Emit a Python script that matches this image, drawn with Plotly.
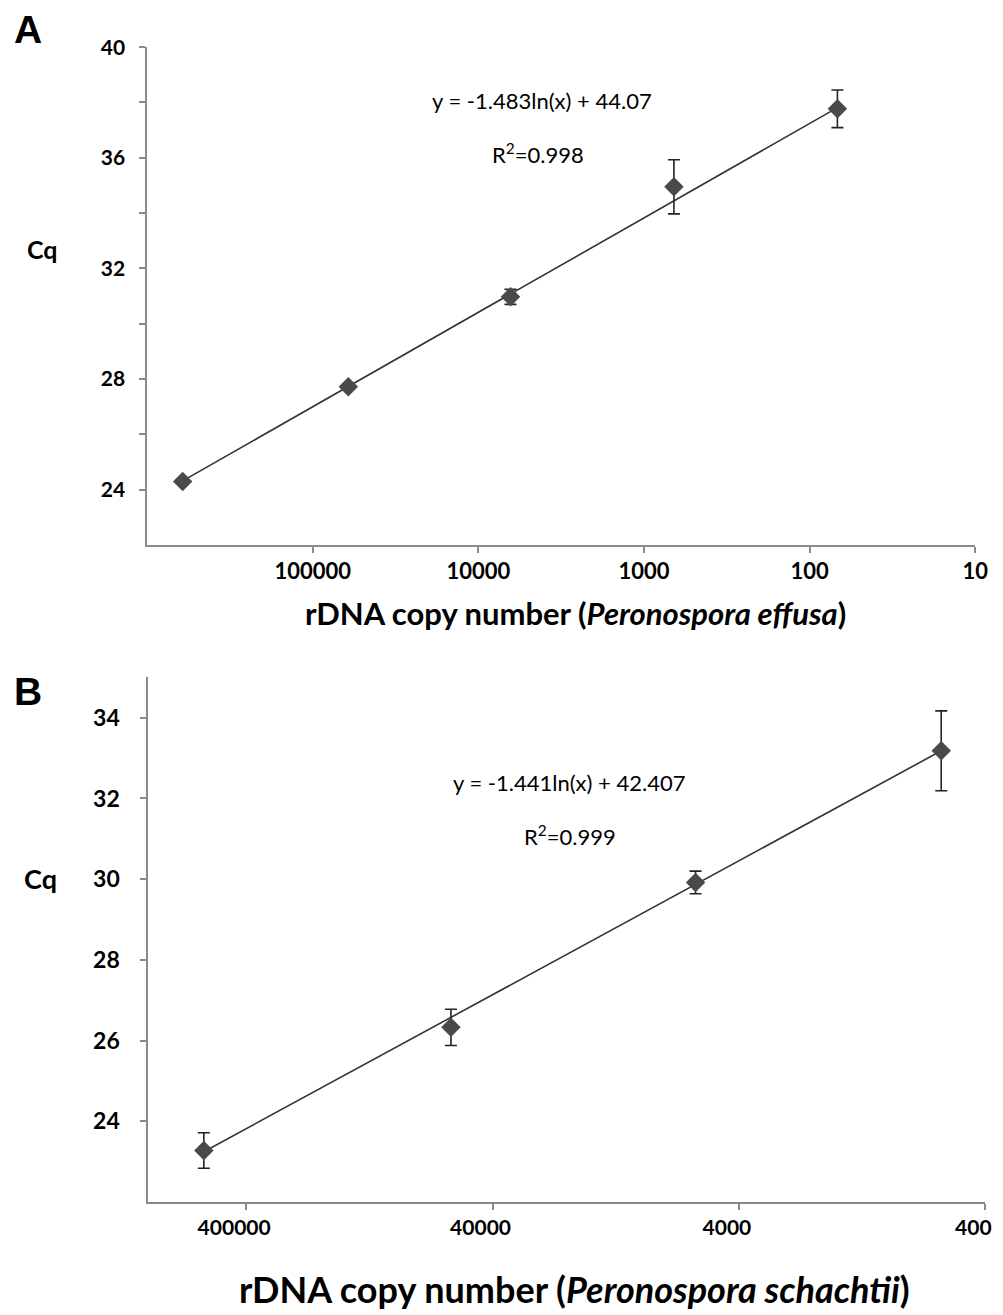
import numpy as np
import plotly.graph_objects as go

W, H = 1003, 1315

# ---------------- data ----------------
a_copies = [610000, 61000, 6400, 660, 68]
a_cq = [24.29, 27.72, 30.97, 34.95, 37.77]
a_err = [0.08, 0.1, 0.27, 0.98, 0.68]
a_slope, a_intercept = -1.483, 44.07
a_xticks = [100000, 10000, 1000, 100, 10]
a_yticks = [24, 28, 32, 36, 40]
a_yminor = [26, 30, 34, 38]

b_copies = [594000, 59000, 6000, 604]
b_cq = [23.28, 26.33, 29.92, 33.18]
b_err = [0.44, 0.45, 0.28, 0.99]
b_slope, b_intercept = -1.441, 42.407
b_xticks = [400000, 40000, 4000, 400]
b_yticks = [24, 26, 28, 30, 32, 34]

# the page is photographed with a small offset/scale; compensate so that
# reference pixel positions land where they should
SX, OX = 0.9856, 7.1
SY, OY = 0.9934, 18.0


def px(x):
    return ((x - OX) / SX) / W


def py(y):
    return 1 - ((y - OY) / SY) / H


FONT = "Lato, Open Sans, sans-serif"
MARK = "#4a4a4a"
AXC = "#8a8a8a"

fig = go.Figure()


def add_panel(copies, cq, err, slope, intercept, xa, ya):
    xs = np.logspace(np.log10(min(copies)), np.log10(max(copies)), 100)
    fig.add_trace(go.Scatter(x=xs, y=slope * np.log(xs) + intercept, mode="lines",
                             line=dict(color="#333333", width=1.6),
                             xaxis=xa, yaxis=ya, showlegend=False, hoverinfo="skip"))
    fig.add_trace(go.Scatter(x=copies, y=cq, mode="markers",
                             marker=dict(symbol="diamond", size=15, color=MARK),
                             error_y=dict(type="data", array=err, visible=True,
                                          color="#222222", thickness=1.6, width=6),
                             xaxis=xa, yaxis=ya, showlegend=False))


add_panel(a_copies, a_cq, a_err, a_slope, a_intercept, "x", "y")
add_panel(b_copies, b_cq, b_err, b_slope, b_intercept, "x2", "y2")


def tf(size):
    return dict(family=FONT, size=size, color="black", weight="bold")


common = dict(showgrid=False, zeroline=False, showline=True,
              linecolor=AXC, linewidth=1.5, ticks="outside", ticklen=6,
              tickcolor=AXC, tickwidth=1.5)

fig.update_layout(
    width=W, height=H, margin=dict(l=0, r=0, t=0, b=0),
    plot_bgcolor="white", paper_bgcolor="white",
    xaxis=dict(common, type="log", domain=[px(146), px(973)], range=[6, 1], anchor="y",
               tickvals=a_xticks, ticktext=[str(v) for v in a_xticks],
               tickfont=tf(22), ticklabelstandoff=0),
    yaxis=dict(common, domain=[py(543), py(43.3)], range=[22, 40], anchor="x",
               tickvals=a_yticks, ticktext=[str(v) for v in a_yticks],
               minor=dict(tickvals=a_yminor, ticks="outside", ticklen=6,
                          tickcolor=AXC, tickwidth=1.5, showgrid=False),
               tickfont=tf(21), ticklabelstandoff=10),
    xaxis2=dict(common, type="log", domain=[px(147), px(983)], range=[6, np.log10(400)],
                anchor="y2", tickvals=b_xticks, ticktext=[str(v) for v in b_xticks],
                tickfont=tf(21), ticklabelstandoff=0, ticklabelshift=12),
    yaxis2=dict(common, domain=[py(1203), py(676)], range=[22, 35], anchor="x2",
                tickvals=b_yticks, ticktext=[str(v) for v in b_yticks],
                tickfont=tf(23), ticklabelstandoff=16),
)

ann = []


def text(x, y, t, size, bold=False, family=FONT):
    ann.append(dict(x=px(x), y=py(y), xref="paper", yref="paper", text=t,
                    showarrow=False, xanchor="center", yanchor="middle",
                    font=dict(family=family, size=size, color="black",
                              weight="bold" if bold else "normal")))


text(27, 26, "A", 39, True, "Liberation Sans, Arial, sans-serif")
text(27, 690, "B", 39, True, "Liberation Sans, Arial, sans-serif")
text(42, 246, "Cq", 25, True)
text(40, 878, "Cq", 27, True)
text(574, 611, "rDNA copy number (<i>Peronospora effusa</i>)", 31, True)
text(573, 1290, "rDNA copy number (<i>Peronospora schachtii</i>)", 36, True)
text(540, 97, "y = -1.483ln(x) + 44.07", 22)
text(536, 150, "R<sup>2</sup>=0.998", 22)
text(567, 782, "y = -1.441ln(x) + 42.407", 22)
text(568, 835, "R<sup>2</sup>=0.999", 22)

fig.update_layout(annotations=ann)
fig.write_html("out.html")
